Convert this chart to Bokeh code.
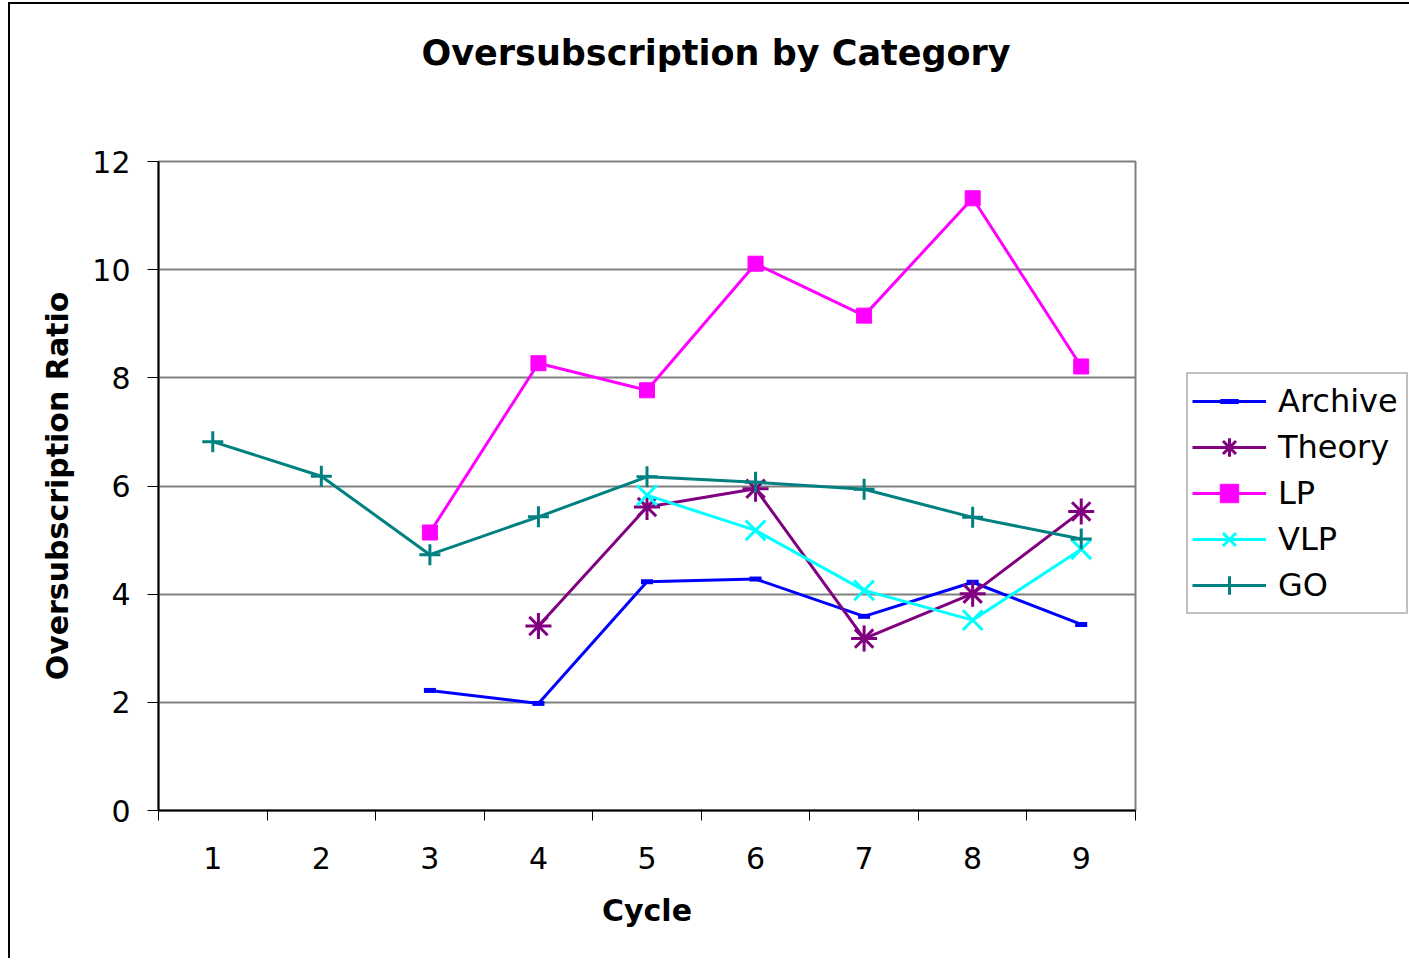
from bokeh.plotting import figure
from bokeh.models import Range1d, FixedTicker, Legend, LegendItem, Title
from bokeh.embed import file_html
from bokeh.resources import INLINE

# ---- data ----
cycles = [1, 2, 3, 4, 5, 6, 7, 8, 9]
archive_x = [3, 4, 5, 6, 7, 8, 9]
archive_y = [2.22, 1.98, 4.23, 4.28, 3.59, 4.22, 3.44]
theory_x = [4, 5, 6, 7, 8, 9]
theory_y = [3.41, 5.61, 5.95, 3.18, 4.01, 5.53]
lp_x = [3, 4, 5, 6, 7, 8, 9]
lp_y = [5.14, 8.27, 7.77, 10.11, 9.15, 11.32, 8.21]
vlp_x = [5, 6, 7, 8, 9]
vlp_y = [5.83, 5.18, 4.07, 3.52, 4.83]
go_x = [1, 2, 3, 4, 5, 6, 7, 8, 9]
go_y = [6.82, 6.18, 4.73, 5.43, 6.17, 6.07, 5.94, 5.42, 5.02]
y_ticks = [0, 2, 4, 6, 8, 10, 12]
cycle_bounds = [0.5, 1.5, 2.5, 3.5, 4.5, 5.5, 6.5, 7.5, 8.5, 9.5]

title_text = "Oversubscription by Category"
x_title = "Cycle"
y_title = "Oversubscription Ratio"

FONT = "DejaVu Sans"

p = figure(frame_width=977, frame_height=649, output_backend="svg", toolbar_location=None,
           x_range=Range1d(0.5, 9.5), y_range=Range1d(0, 12),
           min_border_left=148, min_border_top=157, min_border_right=264,
           min_border_bottom=148)
p.styles = {"border-top": "2px solid #000000", "border-left": "2px solid #000000",
            "margin-left": "8px", "margin-top": "2px"}

p.background_fill_color = "white"
p.border_fill_color = "white"
p.outline_line_color = "#808080"
p.outline_line_width = 2

# title: default title empty, spacer next to the frame, then the real title
p.title.text = ""
p.title.standoff = 0
p.add_layout(Title(text=" ", text_font_size="2px", standoff=85), "above")
p.add_layout(Title(text=title_text, text_font=FONT, text_font_size="35px",
                   text_font_style="bold", text_color="#000000",
                   align="left", offset=263, standoff=0), "above")

# axes
p.xaxis.ticker = FixedTicker(ticks=cycles, minor_ticks=cycle_bounds)
p.xaxis.major_tick_out = 0
p.xaxis.major_tick_in = 0
p.xaxis.minor_tick_out = 10
p.xaxis.minor_tick_in = 0
p.xaxis.minor_tick_line_color = "#000000"
p.xaxis.minor_tick_line_width = 1
p.xaxis.axis_line_color = "#000000"
p.xaxis.axis_line_width = 2
p.xaxis.major_label_standoff = 26
p.xaxis.axis_label = x_title
p.xaxis.axis_label_standoff = 21

p.yaxis.ticker = FixedTicker(ticks=y_ticks)
p.yaxis.minor_tick_line_color = None
p.yaxis.major_tick_out = 11
p.yaxis.major_tick_in = 0
p.yaxis.major_tick_line_color = "#000000"
p.yaxis.axis_line_color = "#000000"
p.yaxis.axis_line_width = 2
p.yaxis.major_label_standoff = 17
p.yaxis.axis_label = y_title
p.yaxis.axis_label_standoff = 14

for ax in (p.xaxis, p.yaxis):
    ax.major_label_text_font = FONT
    ax.major_label_text_font_size = "30px"
    ax.major_label_text_color = "#000000"
    ax.axis_label_text_font = FONT
    ax.axis_label_text_font_size = "30px"
    ax.axis_label_text_font_style = "bold"
    ax.axis_label_text_color = "#000000"

p.xgrid.grid_line_color = None
p.ygrid.grid_line_color = "#808080"
p.ygrid.grid_line_width = 2

# series
series = [
    ("Archive", archive_x, archive_y, "#0000FF", "dash", 12, 5),
    ("Theory", theory_x, theory_y, "#800080", "asterisk", 26, 3),
    ("LP", lp_x, lp_y, "#FF00FF", "square", 15, 1),
    ("VLP", vlp_x, vlp_y, "#00FFFF", "x", 28, 3),
    ("GO", go_x, go_y, "#008080", "cross", 21, 3),
]

items = []
for name, xs, ys, color, marker, size, mlw in series:
    r1 = p.line(xs, ys, line_color=color, line_width=3)
    r2 = p.scatter(xs, ys, marker=marker, size=size, line_color=color,
                   fill_color=color, line_width=mlw)
    items.append(LegendItem(label=name, renderers=[r1, r2]))

legend = Legend(items=items, location=(51, 196))
legend.label_text_font = FONT
legend.label_text_font_size = "32px"
legend.label_text_color = "#000000"
legend.glyph_width = 74
legend.glyph_height = 46
legend.label_height = 46
legend.label_width = 124
legend.spacing = 0
legend.padding = 4
legend.label_standoff = 12
legend.border_line_color = "#808080"
legend.border_line_width = 2
legend.background_fill_color = "white"
legend.background_fill_alpha = 1
legend.margin = 0
p.add_layout(legend, "right")

open("out.html", "w").write(file_html(p, INLINE))
